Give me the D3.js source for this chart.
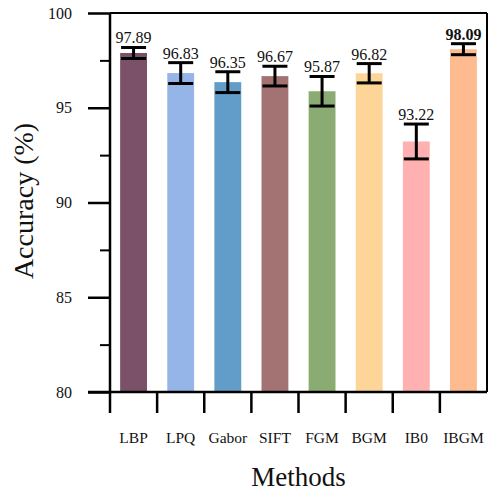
<!DOCTYPE html>
<html><head><meta charset="utf-8">
<script src="https://cdn.jsdelivr.net/npm/d3@7"></script>
<style>body{margin:0;background:#fff}svg{display:block}text{font-family:"Liberation Serif","Times New Roman",serif;fill:#111}</style>
</head><body>
<script>
const methods = ["LBP","LPQ","Gabor","SIFT","FGM","BGM","IB0","IBGM"];
const accuracy = [97.89,96.83,96.35,96.67,95.87,96.82,93.22,98.09];
const errors = [0.29,0.55,0.55,0.52,0.78,0.51,0.92,0.29];
const colors = ["#7a5169","#95b5e8","#629cc9","#a37373","#8aab72","#fed598","#ffb0b0","#fdbb8f"];
const yTicks = [80,85,90,95,100];
const yMinor = [82.5,87.5,92.5,97.5];

const W=488,H=491;
const m={left:110,right:487,top:13,bottom:392};
const svg=d3.select("body").append("svg").attr("width",W).attr("height",H);
const x=d3.scaleBand().domain(methods).range([m.left,m.right]).paddingInner(0.43).paddingOuter(0.215);
const band=d3.scaleBand().domain(methods).range([m.left,m.right]);
const y=d3.scaleLinear().domain([80,100]).range([m.bottom,m.top]);

// bars
svg.selectAll("rect.bar").data(methods).join("rect")
 .attr("x",d=>x(d)).attr("width",x.bandwidth())
 .attr("y",(d,i)=>y(accuracy[i])).attr("height",(d,i)=>y(80)-y(accuracy[i]))
 .attr("fill",(d,i)=>colors[i]);

// error bars
const eg=svg.append("g").attr("stroke","#000").attr("stroke-width",3);
methods.forEach((d,i)=>{
  const cx=x(d)+x.bandwidth()/2, hi=y(accuracy[i]+errors[i]), lo=y(accuracy[i]-errors[i]);
  eg.append("line").attr("x1",cx).attr("x2",cx).attr("y1",hi).attr("y2",lo);
  eg.append("line").attr("x1",cx-12.5).attr("x2",cx+12.5).attr("y1",hi).attr("y2",hi);
  eg.append("line").attr("x1",cx-12.5).attr("x2",cx+12.5).attr("y1",lo).attr("y2",lo);
  svg.append("text").attr("x",cx).attr("y",hi-4).attr("text-anchor","middle")
   .attr("font-size",16).attr("font-weight",d==="IBGM"?"bold":"normal").text(accuracy[i].toFixed(2));
});

// frame
svg.append("line").attr("x1",m.left).attr("x2",m.right).attr("y1",m.top).attr("y2",m.top).attr("stroke","#000").attr("stroke-width",2);
svg.append("line").attr("x1",m.right).attr("x2",m.right).attr("y1",m.top).attr("y2",m.bottom).attr("stroke","#000").attr("stroke-width",2);

// y axis
const ya=svg.append("g").attr("transform",`translate(${m.left},0)`)
 .call(d3.axisLeft(y).tickValues(yTicks).tickSize(22).tickPadding(16).tickFormat(d3.format("d")));
ya.select(".domain").remove();
ya.selectAll(".tick line").attr("stroke","#000").attr("stroke-width",2.5);
ya.selectAll(".tick text").attr("font-size",16).attr("font-family","Liberation Serif").attr("fill","#111");
svg.append("g").attr("transform",`translate(${m.left},0)`)
 .call(d3.axisLeft(y).tickValues(yMinor).tickSize(10).tickFormat(""))
 .call(g=>{g.select(".domain").remove();g.selectAll(".tick line").attr("stroke","#000").attr("stroke-width",2);});
svg.append("line").attr("x1",m.left).attr("x2",m.left).attr("y1",m.top).attr("y2",m.bottom+21).attr("stroke","#000").attr("stroke-width",2.5);

// x axis
svg.append("line").attr("x1",m.left-22).attr("x2",m.right).attr("y1",m.bottom).attr("y2",m.bottom).attr("stroke","#000").attr("stroke-width",2.5);
svg.selectAll("line.xt").data(methods.slice(1)).join("line")
 .attr("x1",d=>band(d)).attr("x2",d=>band(d)).attr("y1",m.bottom).attr("y2",m.bottom+21)
 .attr("stroke","#000").attr("stroke-width",2.5);
svg.selectAll("text.xl").data(methods).join("text")
 .attr("x",d=>band(d)+band.bandwidth()/2).attr("y",443).attr("text-anchor","middle")
 .attr("font-size",15.5).text(d=>d);

// titles
svg.append("text").attr("x",(m.left+m.right)/2).attr("y",486).attr("text-anchor","middle").attr("font-size",27).text("Methods");
svg.append("text").attr("transform","translate(33,201) rotate(-90)").attr("text-anchor","middle").attr("font-size",28).text("Accuracy (%)");
</script>
</body></html>
